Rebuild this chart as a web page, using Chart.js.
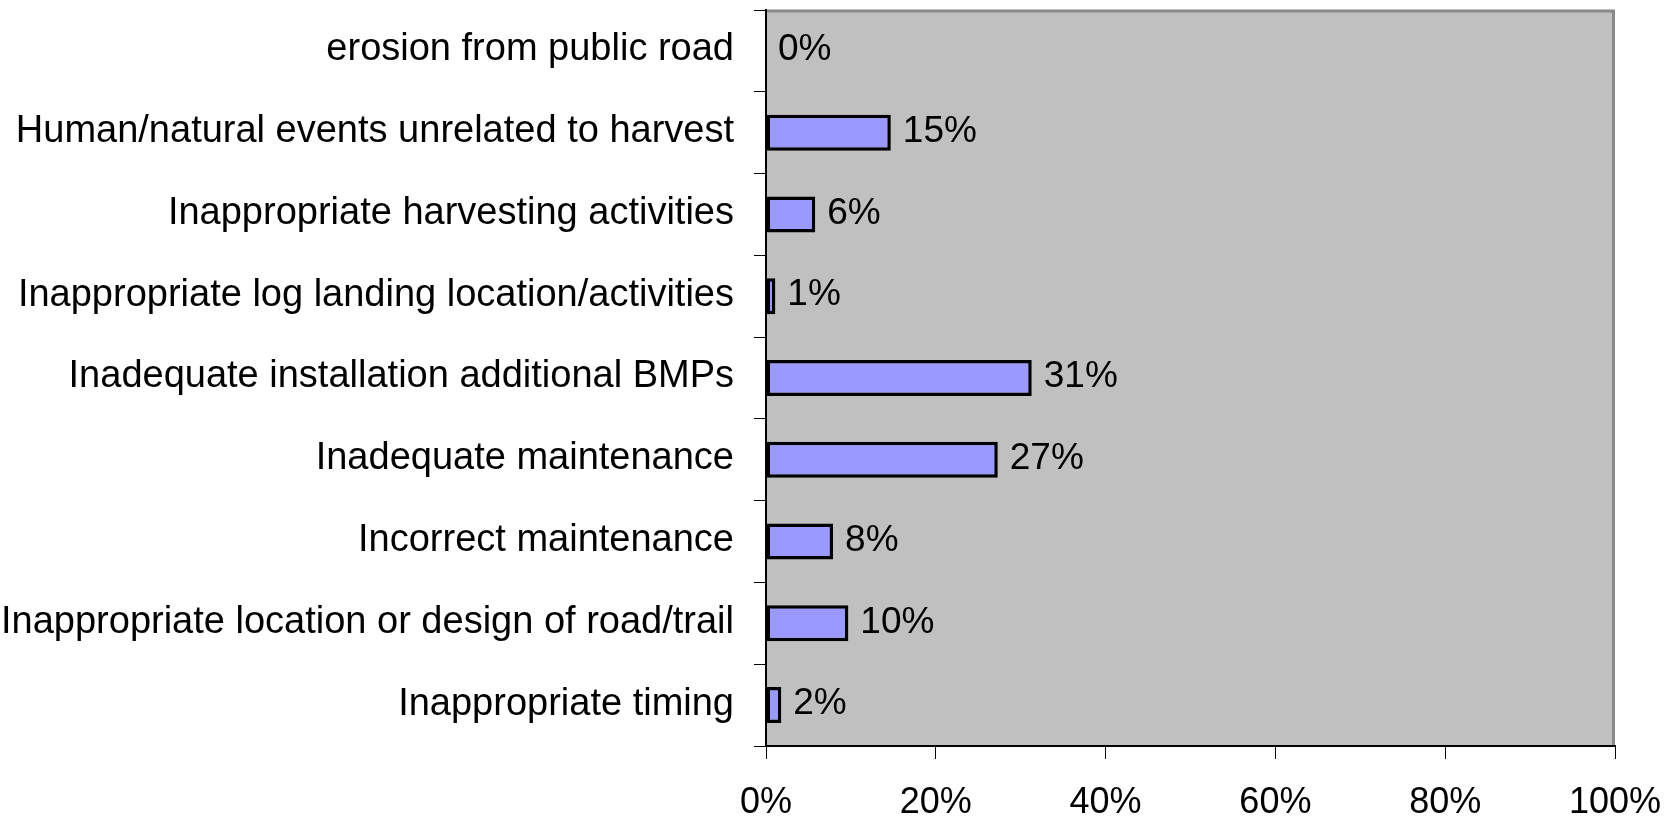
<!DOCTYPE html>
<html>
<head>
<meta charset="utf-8">
<script src="https://cdn.jsdelivr.net/npm/chart.js@4.4.1/dist/chart.umd.min.js"></script>
<style>
html,body{margin:0;padding:0;background:#fff;}
#wrap{width:1678px;height:818px;}
</style>
</head>
<body>
<div id="wrap"><canvas id="c" width="1678" height="818"></canvas></div>
<script>
const categories = [
  "erosion from public road",
  "Human/natural events unrelated to harvest",
  "Inappropriate harvesting activities",
  "Inappropriate log landing location/activities",
  "Inadequate installation additional BMPs",
  "Inadequate maintenance",
  "Incorrect maintenance",
  "Inappropriate location or design of road/trail",
  "Inappropriate timing"
];
const shares = [0, 14.7, 5.8, 1.1, 31.3, 27.3, 7.9, 9.7, 1.8];
const xTicks = [0, 20, 40, 60, 80, 100];
const xTickLabels = ["0%", "20%", "40%", "60%", "80%", "100%"];

const FONT = "'Liberation Sans', Arial, sans-serif";

const plotBg = {
  id: 'plotBg',
  beforeDraw(chart) {
    const {ctx, chartArea: a} = chart;
    ctx.save();
    ctx.fillStyle = '#C0C0C0';
    ctx.fillRect(a.left, a.top, a.right - a.left, a.bottom - a.top);
    ctx.strokeStyle = '#8a8a8a';
    ctx.lineWidth = 3;
    ctx.beginPath();
    ctx.moveTo(a.left, a.top + 1);
    ctx.lineTo(a.right - 1.5, a.top + 1);
    ctx.lineTo(a.right - 1.5, a.bottom);
    ctx.stroke();
    ctx.restore();
  }
};

const textLayer = {
  id: 'textLayer',
  afterDatasetsDraw(chart) {
    const {ctx} = chart;
    const xs = chart.scales.x, ys = chart.scales.y;
    const meta = chart.getDatasetMeta(0);
    ctx.save();
    ctx.fillStyle = '#000';
    ctx.textBaseline = 'middle';
    // bar value labels
    ctx.font = '37px ' + FONT;
    ctx.textAlign = 'left';
    meta.data.forEach((el, i) => {
      ctx.fillText(Math.round(shares[i]) + '%', el.x + 12, el.y - 1);
    });
    // category labels
    ctx.font = '38px ' + FONT;
    ctx.textAlign = 'right';
    categories.forEach((c, i) => {
      ctx.fillText(c, ys.left + ys.width - 32, ys.getPixelForValue(i) - 1);
    });
    // x tick labels
    ctx.font = '36px ' + FONT;
    ctx.textAlign = 'center';
    xTicks.forEach((v, i) => {
      ctx.fillText(xTickLabels[i], xs.getPixelForValue(v), xs.top + 57);
    });
    ctx.restore();
  }
};

new Chart(document.getElementById('c'), {
  type: 'bar',
  data: {
    labels: categories,
    datasets: [{
      data: shares,
      backgroundColor: '#9999FF',
      borderColor: '#000000',
      borderWidth: 3.5,
      borderSkipped: false,
      categoryPercentage: 1,
      barPercentage: 0.44
    }]
  },
  options: {
    indexAxis: 'y',
    responsive: false,
    animation: false,
    devicePixelRatio: 1,
    layout: {padding: {top: 10, right: 63, left: 0, bottom: 0}},
    plugins: {legend: {display: false}, tooltip: {enabled: false}},
    scales: {
      x: {
        min: 0, max: 100,
        afterBuildTicks(scale) { scale.ticks = xTicks.map(v => ({value: v})); },
        afterFit(scale) { scale.height = 72; },
        border: {display: true, color: '#000', width: 2},
        grid: {drawOnChartArea: false, drawTicks: true, tickLength: 13, color: '#000', lineWidth: 1},
        ticks: {display: false}
      },
      y: {
        afterFit(scale) { scale.width = 766; },
        border: {display: true, color: '#000', width: 2},
        grid: {drawOnChartArea: false, drawTicks: true, tickLength: 12, color: '#000', lineWidth: 1, offset: true},
        ticks: {display: false, autoSkip: false}
      }
    }
  },
  plugins: [plotBg, textLayer]
});
</script>
</body>
</html>
